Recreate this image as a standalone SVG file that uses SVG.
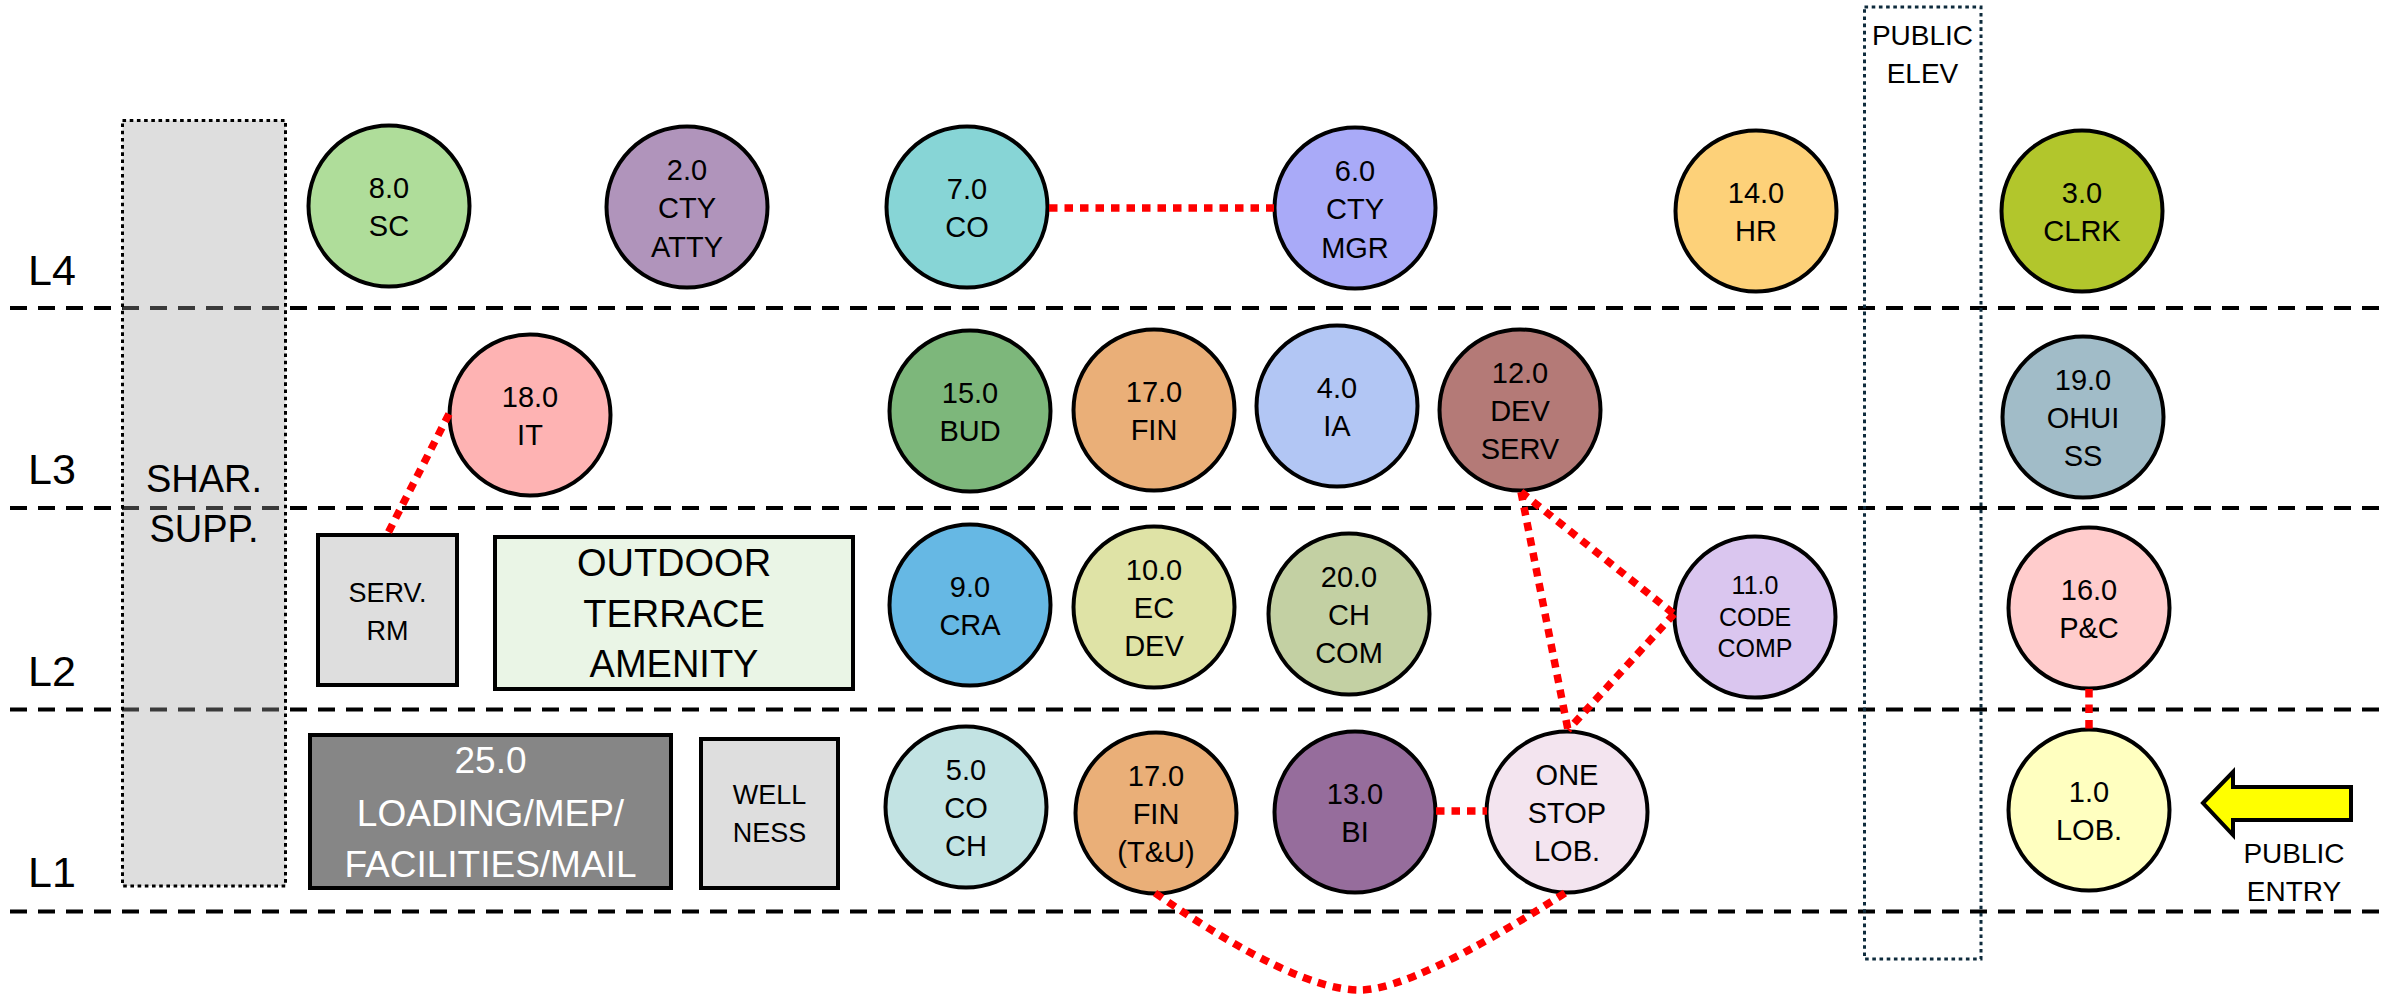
<svg xmlns="http://www.w3.org/2000/svg" width="2382" height="994" viewBox="0 0 2382 994">
<style>
text{font-family:"Liberation Sans",Arial,sans-serif;fill:#000;text-anchor:middle}
.lvl{font-size:43px;text-anchor:start}
.n{font-size:29px}
.sm{font-size:25px}
.floor{stroke:#000;stroke-width:4;stroke-dasharray:17 11;fill:none}
.c{stroke:#000;stroke-width:4}
.r{stroke:#000;stroke-width:4}
.link{stroke:#ff0000;stroke-width:7.5;stroke-dasharray:8.5 7;fill:none}
</style>
<rect width="2382" height="994" fill="#fff"/>
<g id="levels">
<line class="floor" x1="10" y1="308" x2="2382" y2="308"/>
<line class="floor" x1="10" y1="508" x2="2382" y2="508"/>
<line class="floor" x1="10" y1="709.5" x2="2382" y2="709.5"/>
<line class="floor" x1="10" y1="911.5" x2="2382" y2="911.5"/>
<text class="lvl" x="28" y="285">L4</text>
<text class="lvl" x="28" y="484">L3</text>
<text class="lvl" x="28" y="686">L2</text>
<text class="lvl" x="28" y="887">L1</text>
</g>
<g id="shared-support">
<rect x="122.5" y="120.5" width="163" height="765.5" fill="#a2a2a2" fill-opacity="0.357" stroke="#000" stroke-width="3" stroke-dasharray="3.6 3.6"/>
<text x="204" y="492" style="font-size:38px">SHAR.</text>
<text x="204" y="542" style="font-size:38px">SUPP.</text>
</g>
<g id="public-elev">
<rect x="1864.5" y="7" width="116.5" height="952" fill="none" stroke="#0e2b3c" stroke-width="3" stroke-dasharray="3.6 3.6"/>
<text x="1922.5" y="45" style="font-size:28px">PUBLIC</text>
<text x="1922.5" y="83" style="font-size:28px">ELEV</text>
</g>
<g id="n8"><circle class="c" cx="389" cy="206" r="80.5" fill="#afdd9a"/><text class="n" x="389" y="198">8.0</text><text class="n" x="389" y="236">SC</text></g>
<g id="n2"><circle class="c" cx="687" cy="207" r="80.5" fill="#b094bb"/><text class="n" x="687" y="180">2.0</text><text class="n" x="687" y="218">CTY</text><text class="n" x="687" y="257">ATTY</text></g>
<g id="n7"><circle class="c" cx="967" cy="207" r="80.5" fill="#87d5d6"/><text class="n" x="967" y="199">7.0</text><text class="n" x="967" y="237">CO</text></g>
<g id="n6"><circle class="c" cx="1355" cy="208" r="80.5" fill="#a9aaf8"/><text class="n" x="1355" y="181">6.0</text><text class="n" x="1355" y="219">CTY</text><text class="n" x="1355" y="258">MGR</text></g>
<g id="n14"><circle class="c" cx="1756" cy="211" r="80.5" fill="#fdd179"/><text class="n" x="1756" y="203">14.0</text><text class="n" x="1756" y="241">HR</text></g>
<g id="n3"><circle class="c" cx="2082" cy="211" r="80.5" fill="#b2c62c"/><text class="n" x="2082" y="203">3.0</text><text class="n" x="2082" y="241">CLRK</text></g>
<g id="n18"><circle class="c" cx="530" cy="415" r="80.5" fill="#feb3b3"/><text class="n" x="530" y="407">18.0</text><text class="n" x="530" y="445">IT</text></g>
<g id="n15"><circle class="c" cx="970" cy="411" r="80.5" fill="#7db77b"/><text class="n" x="970" y="403">15.0</text><text class="n" x="970" y="441">BUD</text></g>
<g id="n17"><circle class="c" cx="1154" cy="410" r="80.5" fill="#eaaf78"/><text class="n" x="1154" y="402">17.0</text><text class="n" x="1154" y="440">FIN</text></g>
<g id="n4"><circle class="c" cx="1337" cy="406" r="80.5" fill="#b2c6f4"/><text class="n" x="1337" y="398">4.0</text><text class="n" x="1337" y="436">IA</text></g>
<g id="n12"><circle class="c" cx="1520" cy="410" r="80.5" fill="#b47a77"/><text class="n" x="1520" y="383">12.0</text><text class="n" x="1520" y="421">DEV</text><text class="n" x="1520" y="459">SERV</text></g>
<g id="n19"><circle class="c" cx="2083" cy="417" r="80.5" fill="#a1bcc8"/><text class="n" x="2083" y="390">19.0</text><text class="n" x="2083" y="428">OHUI</text><text class="n" x="2083" y="466">SS</text></g>
<g id="serv-rm"><rect class="r" x="318" y="535" width="139" height="150" fill="#dedede"/><text style="font-size:27px" x="387.5" y="602">SERV.</text><text style="font-size:27px" x="387.5" y="640">RM</text></g>
<g id="terrace"><rect class="r" x="495" y="537" width="358" height="152" fill="#eaf5e6"/><text style="font-size:38px" x="674" y="576">OUTDOOR</text><text style="font-size:38px" x="674" y="627">TERRACE</text><text style="font-size:38px" x="674" y="677">AMENITY</text></g>
<g id="n9"><circle class="c" cx="970" cy="605" r="80.5" fill="#66b8e4"/><text class="n" x="970" y="597">9.0</text><text class="n" x="970" y="635">CRA</text></g>
<g id="n10"><circle class="c" cx="1154" cy="607" r="80.5" fill="#dfe3a6"/><text class="n" x="1154" y="580">10.0</text><text class="n" x="1154" y="618">EC</text><text class="n" x="1154" y="656">DEV</text></g>
<g id="n20"><circle class="c" cx="1349" cy="614" r="80.5" fill="#c3d0a3"/><text class="n" x="1349" y="587">20.0</text><text class="n" x="1349" y="625">CH</text><text class="n" x="1349" y="663">COM</text></g>
<g id="n11"><circle class="c" cx="1755" cy="617" r="80.5" fill="#dac6ef"/><text class="sm" x="1755" y="594">11.0</text><text class="sm" x="1755" y="626">CODE</text><text class="sm" x="1755" y="657">COMP</text></g>
<g id="n16"><circle class="c" cx="2089" cy="608" r="80.5" fill="#ffcccc"/><text class="n" x="2089" y="600">16.0</text><text class="n" x="2089" y="638">P&amp;C</text></g>
<g id="n25"><rect class="r" x="310" y="735" width="361" height="153" fill="#868686"/><text style="font-size:37px;fill:#fff" x="490.5" y="773">25.0</text><text style="font-size:37px;fill:#fff" x="490.5" y="826">LOADING/MEP/</text><text style="font-size:37px;fill:#fff" x="490.5" y="877">FACILITIES/MAIL</text></g>
<g id="wellness"><rect class="r" x="701" y="739" width="137" height="149" fill="#dedede"/><text style="font-size:27px" x="769.5" y="804">WELL</text><text style="font-size:27px" x="769.5" y="842">NESS</text></g>
<g id="n5"><circle class="c" cx="966" cy="807" r="80.5" fill="#c2e3e3"/><text class="n" x="966" y="780">5.0</text><text class="n" x="966" y="818">CO</text><text class="n" x="966" y="856">CH</text></g>
<g id="n17b"><circle class="c" cx="1156" cy="813" r="80.5" fill="#eaaf78"/><text class="n" x="1156" y="786">17.0</text><text class="n" x="1156" y="824">FIN</text><text class="n" x="1156" y="862">(T&amp;U)</text></g>
<g id="n13"><circle class="c" cx="1355" cy="812" r="80.5" fill="#966d9c"/><text class="n" x="1355" y="804">13.0</text><text class="n" x="1355" y="842">BI</text></g>
<g id="onestop"><circle class="c" cx="1567" cy="812" r="80.5" fill="#f3e4ef"/><text class="n" x="1567" y="785">ONE</text><text class="n" x="1567" y="823">STOP</text><text class="n" x="1567" y="861">LOB.</text></g>
<g id="n1"><circle class="c" cx="2089" cy="810" r="80.5" fill="#ffffc0"/><text class="n" x="2089" y="802">1.0</text><text class="n" x="2089" y="840">LOB.</text></g>
<g id="public-entry">
<polygon points="2203,803 2233,772 2233,787 2351,787 2351,820 2233,820 2233,835" fill="#ffff00" stroke="#000" stroke-width="4"/>
<text style="font-size:28px" x="2294" y="863">PUBLIC</text>
<text style="font-size:28px" x="2294" y="901">ENTRY</text>
</g>
<g id="connectors">
<line class="link" x1="1049" y1="208" x2="1274" y2="208"/>
<line class="link" x1="449" y1="414" x2="387" y2="535"/>
<line class="link" x1="1521" y1="492" x2="1568" y2="730"/>
<line class="link" x1="1521" y1="492" x2="1674" y2="614"/>
<line class="link" x1="1674" y1="614" x2="1568" y2="730"/>
<line class="link" x1="1436" y1="811" x2="1487" y2="811"/>
<line class="link" x1="2089" y1="689" x2="2089" y2="730"/>
<path class="link" d="M1155,893 Q1295,990 1360,990 Q1413,990 1565,893"/>
</g>
</svg>
